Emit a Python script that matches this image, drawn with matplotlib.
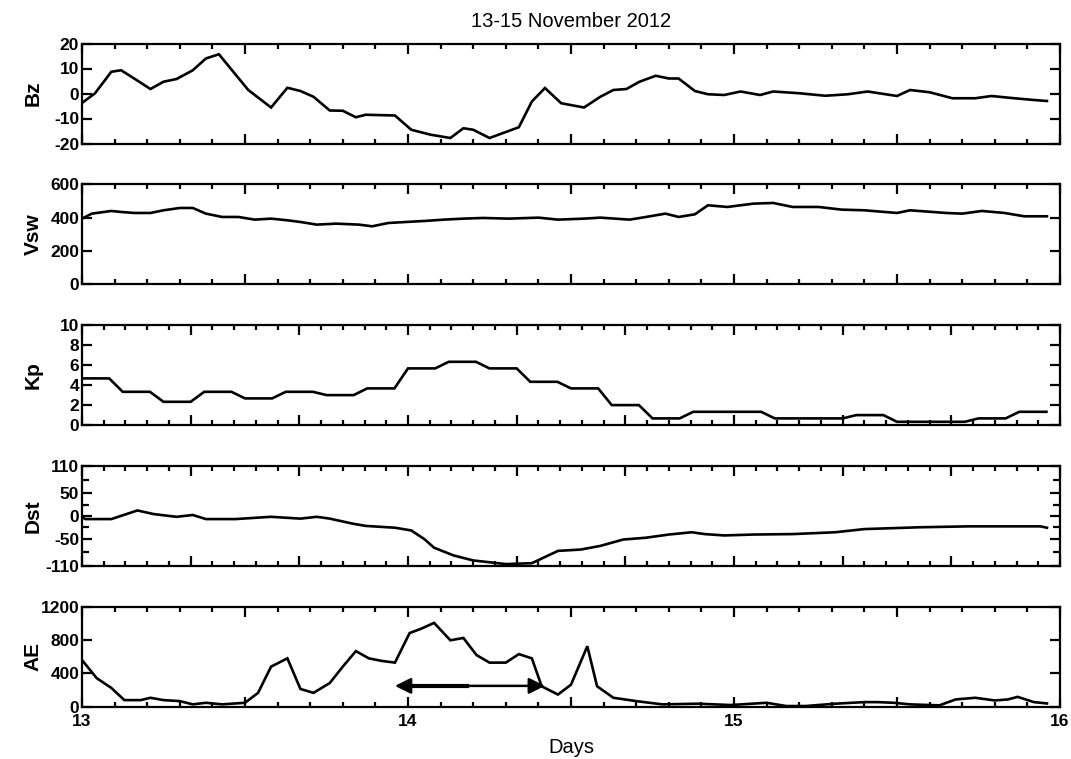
import numpy as np
import matplotlib
matplotlib.use("Agg")
import matplotlib.pyplot as plt
from matplotlib.ticker import MultipleLocator, FixedLocator

# --- data (day of November 2012) ---
bz_t = [13.00, 13.04, 13.09, 13.12, 13.16, 13.21, 13.25, 13.29, 13.34, 13.38, 13.42,
        13.51, 13.58, 13.63, 13.67, 13.71, 13.76, 13.80, 13.84, 13.87, 13.96, 14.01,
        14.07, 14.13, 14.17, 14.20, 14.25, 14.34, 14.38, 14.42, 14.47, 14.54, 14.59,
        14.63, 14.67, 14.71, 14.76, 14.80, 14.83, 14.88, 14.92, 14.97, 15.02, 15.08,
        15.12, 15.20, 15.28, 15.35, 15.41, 15.50, 15.54, 15.60, 15.67, 15.74, 15.79,
        15.86, 15.92, 15.96]
bz = [-3.8, 0.1, 8.7, 9.3, 6.0, 1.8, 4.7, 5.8, 9.3, 14.0, 15.7,
      1.4, -5.6, 2.3, 1.0, -1.3, -6.8, -6.9, -9.5, -8.5, -8.8, -14.5,
      -16.5, -17.8, -13.9, -14.5, -17.8, -13.5, -3.2, 2.2, -3.9, -5.6, -1.3,
      1.4, 1.8, 4.7, 7.1, 6.0, 6.0, 1.0, -0.3, -0.6, 0.8, -0.6,
      0.8, 0.1, -0.9, -0.3, 0.8, -1.0, 1.4, 0.5, -1.9, -1.9, -1.0,
      -1.9, -2.6, -3.0]

vsw_t = [13.00, 13.03, 13.09, 13.12, 13.16, 13.21, 13.25, 13.30, 13.34, 13.38, 13.43,
         13.48, 13.53, 13.58, 13.63, 13.67, 13.72, 13.78, 13.85, 13.89, 13.94, 14.05,
         14.11, 14.17, 14.23, 14.31, 14.40, 14.46, 14.54, 14.59, 14.68, 14.73, 14.79,
         14.83, 14.88, 14.92, 14.98, 15.06, 15.12, 15.18, 15.26, 15.33, 15.40, 15.50,
         15.54, 15.65, 15.70, 15.76, 15.83, 15.89, 15.96]
vsw = [394, 424, 440, 434, 428, 428, 444, 458, 458, 424, 404,
       404, 388, 394, 384, 374, 358, 364, 358, 348, 368, 380,
       388, 394, 398, 394, 400, 388, 394, 400, 388, 404, 424,
       404, 420, 474, 464, 484, 488, 464, 464, 448, 444, 428,
       444, 428, 424, 440, 428, 408, 408]

# 3-hour Kp index, 13 Nov 00 UT to 15 Nov 21 UT
kp_3h = [4.67, 3.33, 2.33, 3.33, 2.67, 3.33, 3.0, 3.67,
         5.67, 6.33, 5.67, 4.33, 3.67, 2.0, 0.67, 1.33,
         1.33, 0.67, 0.67, 1.0, 0.33, 0.33, 0.67, 1.33]

dst_t = [13.00, 13.01, 13.09, 13.17, 13.22, 13.29, 13.34, 13.38, 13.47, 13.58, 13.67,
         13.72, 13.76, 13.83, 13.87, 13.96, 14.01, 14.05, 14.08, 14.14, 14.20, 14.30,
         14.38, 14.46, 14.53, 14.59, 14.66, 14.73, 14.80, 14.87, 14.91, 14.97, 15.06,
         15.18, 15.31, 15.40, 15.57, 15.72, 15.86, 15.94, 15.96]
dst = [-2, -7, -7, 12, 4, -2, 2, -7, -7, -2, -6,
       -2, -6, -17, -22, -26, -32, -51, -70, -87, -98, -106,
       -104, -77, -74, -66, -52, -48, -41, -36, -40, -43, -41,
       -40, -36, -29, -25, -23, -23, -23, -26]

ae_t = [13.00, 13.045, 13.09, 13.13, 13.18, 13.21, 13.25, 13.30, 13.34, 13.38, 13.43,
        13.50, 13.54, 13.58, 13.63, 13.67, 13.71, 13.76, 13.80, 13.84, 13.88, 13.92,
        13.96, 14.005, 14.04, 14.08, 14.13, 14.17, 14.21, 14.25, 14.30, 14.34, 14.38,
        14.41, 14.43, 14.46, 14.50, 14.55, 14.58, 14.63, 14.70, 14.78, 14.89, 14.99,
        15.10, 15.16, 15.22, 15.31, 15.40, 15.44, 15.49, 15.54, 15.63, 15.68, 15.74,
        15.80, 15.84, 15.87, 15.92, 15.96]
ae = [560, 343, 225, 79, 79, 107, 79, 67, 28, 47, 28,
      47, 166, 481, 580, 213, 166, 284, 481, 667, 580, 549,
      529, 884, 935, 1006, 797, 825, 620, 529, 529, 631, 580,
      245, 205, 146, 264, 726, 245, 107, 67, 28, 36, 20,
      47, 8, 8, 36, 55, 55, 47, 28, 16, 87, 107,
      75, 87, 118, 55, 39]

# substorm interval marked on the AE panel
arrow_start, arrow_end, arrow_level = 13.96, 14.42, 250

labels = ["Bz", "Vsw", "Kp", "Dst", "AE"]
ylims = [(-20, 20), (0, 600), (0, 10), (-110, 110), (0, 1200)]
yticks = [[-20, -10, 0, 10, 20], [0, 200, 400, 600], [0, 2, 4, 6, 8, 10],
          [-110, -50, 0, 50, 110], [0, 400, 800, 1200]]
day_ticks = [13.0, 13.5, 14.0, 14.5, 15.0, 15.5, 16.0]
day_labels = ["13", "", "14", "", "15", "", "16"]

kp_t = 13 + np.arange(len(kp_3h) * 3) / 24.0
kp = np.repeat(kp_3h, 3)

series = [(bz_t, bz), (vsw_t, vsw), (kp_t, kp), (dst_t, dst), (ae_t, ae)]

tick_font = dict(family="Liberation Sans", weight="bold", size=12.5)
label_font = dict(family="Liberation Sans", weight="bold", size=15)

fig = plt.figure(figsize=(10.71, 7.59), dpi=100)
W, H = 1071.0, 759.0
left, right = 82, 1060
top0, step, height = 43.5, 140.8, 100

for i, (lab, (t, v)) in enumerate(zip(labels, series)):
    top = top0 + i * step
    ax = fig.add_axes([left / W, 1 - (top + height) / H, (right - left) / W, height / H])
    ax.plot(t, v, color="black", lw=1.9, solid_joinstyle="miter")
    ax.set_xlim(13, 16)
    ax.set_ylim(*ylims[i])
    ax.yaxis.set_major_locator(FixedLocator(yticks[i]))
    if lab == "Dst":
        ax.yaxis.set_minor_locator(FixedLocator([-80, -25, 25, 80]))
    if lab in ("Kp", "Dst"):
        ax.xaxis.set_major_locator(MultipleLocator(1 / 3.0))
        ax.xaxis.set_minor_locator(MultipleLocator(1 / 15.0))
    else:
        ax.xaxis.set_major_locator(FixedLocator(day_ticks))
        ax.xaxis.set_minor_locator(MultipleLocator(0.1))
    ax.tick_params(which="both", direction="in", top=True, right=True, width=1.6,
                   pad=2, labelbottom=False)
    ax.tick_params(which="major", length=7)
    ax.tick_params(which="minor", length=3.5)
    ax.tick_params(axis="y", which="minor", length=5)
    for s in ax.spines.values():
        s.set_linewidth(1.6)
    ax.set_yticklabels([str(y) for y in yticks[i]], fontdict=tick_font)
    ax.set_ylabel(lab, fontdict=label_font)
    ax.yaxis.set_label_coords(-0.04, 0.5)

    if i == 0:
        ax.set_title("13-15 November 2012", family="Liberation Sans", size=14.5, pad=12)
    if lab == "AE":
        ax.tick_params(axis="x", which="major", labelbottom=True, pad=5)
        ax.set_xticklabels(day_labels, fontdict=tick_font)
        ax.set_xlabel("Days", family="Liberation Sans", size=14.5, labelpad=7)
        ax.annotate("", xy=(arrow_start, arrow_level), xytext=(arrow_end, arrow_level),
                    arrowprops=dict(arrowstyle="<|-|>", color="black", lw=1.8,
                                    mutation_scale=24, shrinkA=0, shrinkB=0))
        ax.plot([arrow_start + 0.02, 14.18], [arrow_level, arrow_level], color="black", lw=3)

fig.savefig("out.png", dpi=100)
